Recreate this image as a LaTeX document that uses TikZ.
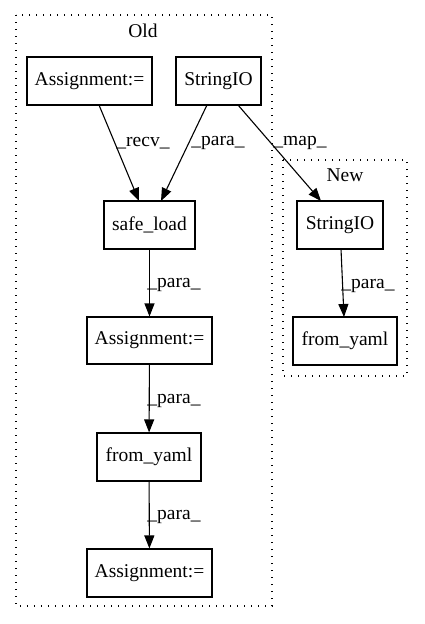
\documentclass[tikz,border=0pt]{standalone}
\usepackage{fontspec}
\setmainfont{Liberation Serif}
\usetikzlibrary{arrows.meta}
\begin{document}
\begin{tikzpicture}[x=1pt,y=-1pt,
  box/.style={draw,line width=1.1pt,rectangle,inner sep=0pt,font=\fontsize{19.5}{22}\selectfont},
  lab/.style={font=\fontsize{19.5}{22}\selectfont,inner sep=0pt},
  edge/.style={line width=1.1pt,-{Triangle[length=13pt,width=10pt]}},
  clus/.style={draw,line width=1.4pt,dash pattern=on 1.4pt off 5.6pt}]
\useasboundingbox (0,0) rectangle (424,624);
% clusters
\draw[clus] (16,15) rectangle (272,606);
\draw[clus] (283,160) rectangle (407,376);
\node[lab] (oldlab) at (143,31) {Old};
\node[lab] (newlab) at (345,175) {New};
% nodes
\node[box,minimum width=125pt,minimum height=48pt] (a1) at (89.5,81) {Assignment:=};
\node[box,minimum width=85pt,minimum height=48pt] (s1) at (218.5,81) {StringIO};
\node[box,minimum width=91pt,minimum height=48pt] (sl) at (149.5,225) {safe\_load};
\node[box,minimum width=125pt,minimum height=47pt] (a2) at (149.5,340.5) {Assignment:=};
\node[box,minimum width=104pt,minimum height=48pt] (fy) at (149,457) {from\_yaml};
\node[box,minimum width=125pt,minimum height=48pt] (a3) at (149.5,573) {Assignment:=};
\node[box,minimum width=86pt,minimum height=48pt] (s2) at (340,225) {StringIO};
\node[box,minimum width=104pt,minimum height=48pt] (fy2) at (345,341) {from\_yaml};
% edges
\draw[edge] (99,105) -- (139,201);
\node[lab] (l1) at (143,143) {\_recv\_};
\draw[edge] (207,105) -- (161,201);
\node[lab] (l2) at (218,143) {\_para\_};
\draw[edge] (238,105) -- (321,201);
\node[lab] (l3) at (300,143) {\_map\_};
\draw[edge] (sl) -- (a2);
\node[lab] (l4) at (174,285) {\_para\_};
\draw[edge] (a2) -- (fy);
\node[lab] (l5) at (174,401) {\_para\_};
\draw[edge] (fy) -- (a3);
\node[lab] (l6) at (174,517) {\_para\_};
\draw[edge] (341,249) -- (344,317);
\node[lab] (l7) at (368,286) {\_para\_};
\end{tikzpicture}
\end{document}
